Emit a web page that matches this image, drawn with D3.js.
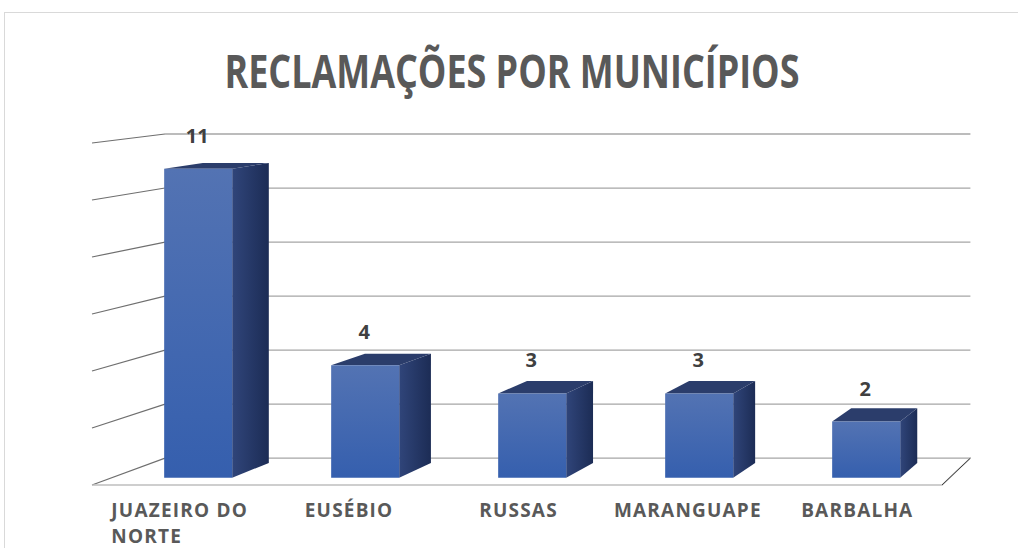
<!DOCTYPE html>
<html>
<head>
<meta charset="utf-8">
<script src="https://cdn.jsdelivr.net/npm/d3@7"></script>
<style>
  body { margin: 0; background: #fff; }
  text { font-family: "Open Sans", sans-serif; font-weight: bold; }
</style>
</head>
<body>
<svg id="chart" width="1018" height="548"></svg>
<script>
const categories = ["JUAZEIRO DO NORTE", "EUSÉBIO", "RUSSAS", "MARANGUAPE", "BARBALHA"];
const values = [11, 4, 3, 3, 2];
const yTicks = [0, 2, 4, 6, 8, 10, 12];
const title = "RECLAMAÇÕES POR MUNICÍPIOS";

let svg = d3.select("#chart");
let width = 1018, height = 548;

// outer chart border
svg.append("rect")
    .attr("x", 4.5).attr("y", 12.5)
    .attr("width", 1100).attr("height", 600)
    .attr("fill", "none").attr("stroke", "#d9d9d9");

// front plane scales
let x = d3.scaleBand().domain(categories).range([95, 942]).paddingInner(0).paddingOuter(0);
let y = d3.scaleLinear().domain([0, 12]).range([485, 143]);
let wallLeft = 92, wallRight = 942;

// simple perspective: points move toward a vanishing point with depth
let vp = [1483, -28];
let depthScale = d3.scaleLinear().domain([0, 1]).range([1, 0.9475]);
let proj = (px, py, z) => {
    let s = depthScale(z);
    return [vp[0] + s * (px - vp[0]), vp[1] + s * (py - vp[1])];
};
let poly = (pts) => pts.map(p => proj(p[0], p[1], p[2]).join(",")).join(" ");

let defs = svg.append("defs");
let gFront = defs.append("linearGradient").attr("id", "front")
    .attr("x1", 0).attr("y1", 0).attr("x2", 0).attr("y2", 1);
gFront.append("stop").attr("offset", "0%").attr("stop-color", "#5373b3");
gFront.append("stop").attr("offset", "100%").attr("stop-color", "#355fae");
let gSide = defs.append("linearGradient").attr("id", "side")
    .attr("x1", 0).attr("y1", 0).attr("x2", 1).attr("y2", 0);
gSide.append("stop").attr("offset", "0%").attr("stop-color", "#30457a");
gSide.append("stop").attr("offset", "100%").attr("stop-color", "#1c2c55");

// gridlines on back wall and left wall
let grid = svg.append("g");
yTicks.forEach(t => {
    let a = proj(wallLeft, y(t), 1), b = proj(wallRight, y(t), 1);
    grid.append("line")
        .attr("x1", a[0]).attr("y1", a[1]).attr("x2", b[0]).attr("y2", b[1])
        .attr("stroke", "#a6a6a6").attr("stroke-width", 1.3);
    let c = proj(wallLeft, y(t), 0);
    grid.append("line")
        .attr("x1", c[0]).attr("y1", c[1]).attr("x2", a[0]).attr("y2", a[1])
        .attr("stroke", "#6f6f6f").attr("stroke-width", 1.2);
});

// floor front and right edges
let f0 = proj(wallLeft, y(0), 0), f1 = proj(wallRight, y(0), 0), f2 = proj(wallRight, y(0), 1);
svg.append("polyline")
    .attr("points", [f0, f1, f2].map(p => p.join(",")).join(" "))
    .attr("fill", "none").attr("stroke", "#bfbfbf").attr("stroke-width", 1.5);
svg.append("line")
    .attr("x1", f1[0]).attr("y1", f1[1]).attr("x2", f2[0]).attr("y2", f2[1])
    .attr("stroke", "#404040").attr("stroke-width", 1);

// bars
let z1 = 0.27, z2 = 0.82, barW = 69;
let bars = svg.selectAll(".bar").data(values).enter().append("g").attr("class", "bar");
let bx0 = (d, i) => x(categories[i]) + x.bandwidth() / 2 - barW / 2;
let bx1 = (d, i) => x(categories[i]) + x.bandwidth() / 2 + barW / 2;

bars.append("polygon")
    .attr("points", (d, i) => poly([[bx1(d, i), y(0), z1], [bx1(d, i), y(0), z2], [bx1(d, i), y(d), z2], [bx1(d, i), y(d), z1]]))
    .attr("fill", "url(#side)");
bars.append("polygon")
    .attr("points", (d, i) => poly([[bx0(d, i), y(d), z1], [bx1(d, i), y(d), z1], [bx1(d, i), y(d), z2], [bx0(d, i), y(d), z2]]))
    .attr("fill", "#2b3d6b");
bars.append("polygon")
    .attr("points", (d, i) => poly([[bx0(d, i), y(0), z1], [bx1(d, i), y(0), z1], [bx1(d, i), y(d), z1], [bx0(d, i), y(d), z1]]))
    .attr("fill", "url(#front)");

// data labels
bars.append("text")
    .attr("x", (d, i) => proj(x(categories[i]) + x.bandwidth() / 2, y(d), z1)[0] - 1)
    .attr("y", (d, i) => proj(x(categories[i]) + x.bandwidth() / 2, y(d), z1)[1] - 26)
    .attr("text-anchor", "middle")
    .attr("font-size", 20)
    .attr("fill", "#404040")
    .text(d => d);

// category labels, wrapped and left aligned inside a centred block
let labels = svg.append("g");
categories.forEach(c => {
    let words = c.split(" ");
    let lines = c.length > 12 ? [words.slice(0, 2).join(" "), words.slice(2).join(" ")] : [c];
    let cx = x(c) + x.bandwidth() / 2;
    let texts = lines.map((l, k) => labels.append("text")
        .attr("y", 517 + k * 25.5)
        .attr("font-size", 19)
        .attr("letter-spacing", 1.2)
        .attr("fill", "#595959")
        .text(l));
    let w = d3.max(texts, t => t.node().getComputedTextLength());
    texts.forEach(t => t.attr("x", cx - w / 2));
});

// title
svg.append("text")
    .attr("x", 512).attr("y", 88)
    .attr("text-anchor", "middle")
    .attr("font-size", 46)
    .attr("fill", "#595959")
    .attr("textLength", 575)
    .attr("lengthAdjust", "spacingAndGlyphs")
    .text(title);
</script>
</body>
</html>
